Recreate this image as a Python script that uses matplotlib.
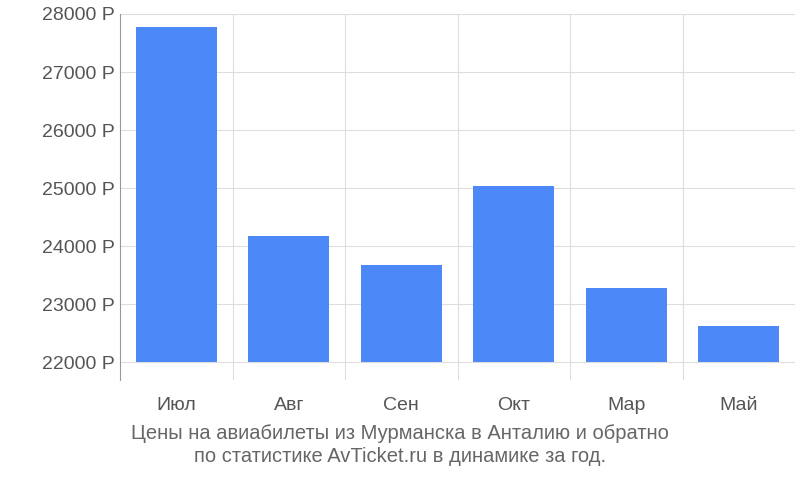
import matplotlib
matplotlib.use("Agg")
import matplotlib.pyplot as plt

months = ["Июл", "Авг", "Сен", "Окт", "Мар", "Май"]
prices = [27780, 24170, 23670, 25030, 23280, 22620]
y_ticks = [22000, 23000, 24000, 25000, 26000, 27000, 28000]
base = 22000

plt.rcParams["font.family"] = ["Liberation Sans", "DejaVu Sans"]
fig = plt.figure(figsize=(8, 5), dpi=100)
ax = fig.add_axes([0.15, 0.24, 0.844, 0.732])

x = list(range(len(months)))
ax.bar(x, [p - base for p in prices], bottom=base, width=0.72,
       color="#4d88f9", zorder=3)

ax.set_xlim(-0.5, len(months) - 0.5)
ax.set_ylim(21690, 28000)
ax.set_yticks(y_ticks)
ax.set_yticklabels([f"{v} Р" for v in y_ticks])
ax.set_xticks(x)
ax.set_xticklabels(months)
ax.set_xticks([i + 0.5 for i in x], minor=True)
ax.grid(True, axis="y", color="#dddddd", zorder=0)
ax.grid(True, axis="x", which="minor", color="#dddddd", zorder=0)
ax.tick_params(axis="both", which="both", length=0, labelsize=14,
               labelcolor="#555555", pad=12)
ax.tick_params(axis="y", pad=4)
for side in ("top", "right", "bottom"):
    ax.spines[side].set_visible(False)
ax.spines["left"].set_color("#999999")

fig.text(0.5, 0.11, "Цены на авиабилеты из Мурманска в Анталию и обратно\n"
         "по статистике AvTicket.ru в динамике за год.",
         ha="center", va="center", fontsize=14.5, color="#666666",
         linespacing=1.3)

fig.savefig("out.png", dpi=100)
